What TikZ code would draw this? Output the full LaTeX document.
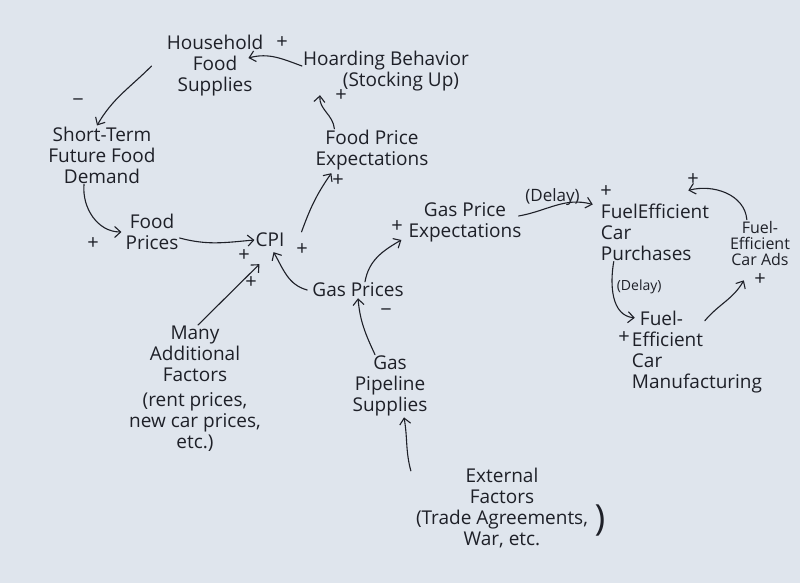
\documentclass[tikz,border=0pt]{standalone}
\usepackage{fontspec}
\setmainfont{Open Sans}
\usetikzlibrary{arrows.meta}
\definecolor{paper}{RGB}{223,229,237}
\definecolor{ink}{RGB}{30,32,40}
\begin{document}
\begin{tikzpicture}[x=1pt,y=-1pt,
  lbl/.style={text=ink, font=\fontsize{19}{21}\selectfont, align=center, inner sep=1pt},
  small/.style={text=ink, font=\fontsize{16}{16}\selectfont, align=center, inner sep=1pt},
  delay/.style={text=ink, font=\fontsize{17}{17}\selectfont, inner sep=1pt},
  pol/.style={text=ink, font=\fontsize{20}{20}\selectfont, inner sep=0pt},
  link/.style={draw=ink, line width=1.1pt, line cap=round, -{Straight Barb[length=6pt,width=11pt]}},
]
\fill[paper] (0,0) rectangle (800,583);
\useasboundingbox (0,0) rectangle (800,583);

% nodes
\node[lbl] (hh) at (215,66) {Household\\Food\\Supplies};
\node[lbl] (hoard) at (386,71) {Hoarding Behavior\\\hspace*{30pt}(Stocking Up)};
\node[lbl] (fpe) at (372,150) {Food Price\\Expectations};
\node[lbl] (st) at (102,155) {Short-Term\\Future Food\\Demand};
\node[lbl] (fp) at (152,232) {Food\\Prices};
\node[lbl] (cpi) at (270,240) {CPI};
\node[lbl] (gp) at (358,290) {Gas Prices};
\node[lbl] (gpe) at (465,222) {Gas Price\\Expectations};
\node[lbl, align=left] (fecp) at (655,232) {FuelEfficient\\Car\\Purchases};
\node[small] (ads) at (760,243) {Fuel-\\Efficient\\Car Ads};
\node[lbl, align=left] (mfg) at (697,352) {\hspace*{8pt}Fuel-\\Efficient\\Car\\Manufacturing};
\node[lbl] (maf) at (195,389) {Many\\Additional\\Factors\\[4pt](rent prices,\\new car prices,\\etc.)};
\node[lbl] (pipe) at (390,386) {Gas\\Pipeline\\Supplies};
\node[lbl] (ext) at (502,508) {External\\Factors\\(Trade Agreements,\\War, etc.};
\node[text=ink, font=\fontsize{36}{36}\selectfont, inner sep=0pt] (paren) at (600,520) {)};

% polarities
\node[pol] (p1) at (282,43) {+};
\node[pol] (p2) at (341,96) {+};
\node[pol] (p3) at (78,103) {−};
\node[pol] (p4) at (93,244) {+};
\node[pol] (p5) at (244,256) {+};
\node[pol] (p6) at (302,250) {+};
\node[pol] (p7) at (251,283) {+};
\node[pol] (p8) at (338,181) {+};
\node[pol] (p9) at (397,227) {+};
\node[pol] (p10) at (386,313) {−};
\node[pol] (p11) at (606,192) {+};
\node[pol] (p12) at (693,180) {+};
\node[pol] (p13) at (624,338) {+};
\node[pol] (p14) at (760,280) {+};

% connectors
\draw[link] ([yshift=5pt]hoard.west) to[out=160,in=15] ([shift={(-16pt,8pt)}]hh.east);
\draw[link] ([xshift=-14pt]hh.west) to[out=-135,in=60] ([xshift=-5pt]st.north);
\draw[link] ([xshift=-18pt]st.south) to[out=-95,in=180] ([xshift=-3pt]fp.west);
\draw[link] ([yshift=-6pt]fp.east) to[out=-15,in=185] (cpi.west);
\draw[link] ([xshift=16pt]cpi.north east) to[out=70,in=235] ([shift={(17pt,-2pt)}]fpe.south west);
\draw[link] ([xshift=20pt]fpe.north west) to[out=95,in=-95] ([shift={(18pt,-3pt)}]hoard.south west);
\draw[link] ([xshift=3pt]maf.north) -- ([shift={(5pt,-16pt)}]cpi.south west);
\draw[link] ([xshift=-4pt]gp.west) to[out=165,in=-60] ([shift={(-12pt,-4pt)}]cpi.south east);
\draw[link] ([xshift=7pt]gp.north) to[out=80,in=210] ([shift={(-6pt,3pt)}]gpe.south west);
\draw[link] ([xshift=-15pt]pipe.north) to[out=115,in=-85] (gp.south);
\draw[link] ([shift={(-4pt,-4pt)}]ext.north west) to[out=105,in=-80] ([xshift=14pt]pipe.south);
\draw[link] ([shift={(-4pt,6pt)}]gpe.east) to[out=10,in=165]
  node[delay, above=-1pt, pos=0.45] (d1) {(Delay)} ([shift={(-7pt,-2pt)}]fecp.north west);
\draw[link] ([xshift=14pt]fecp.south west) to[out=-100,in=175]
  node[delay, font=\fontsize{14}{14}\selectfont, right=3pt, pos=0.35] (d2) {(Delay)} ([shift={(4pt,-8pt)}]mfg.north west);
\draw[link] ([shift={(74pt,-11pt)}]mfg.north west) to[out=50,in=240] ([shift={(15pt,-14pt)}]ads.south west);
\draw[link] ([xshift=18pt]ads.north west) to[out=95,in=15] ([shift={(-22pt,12pt)}]fecp.north east);
\end{tikzpicture}
\end{document}
